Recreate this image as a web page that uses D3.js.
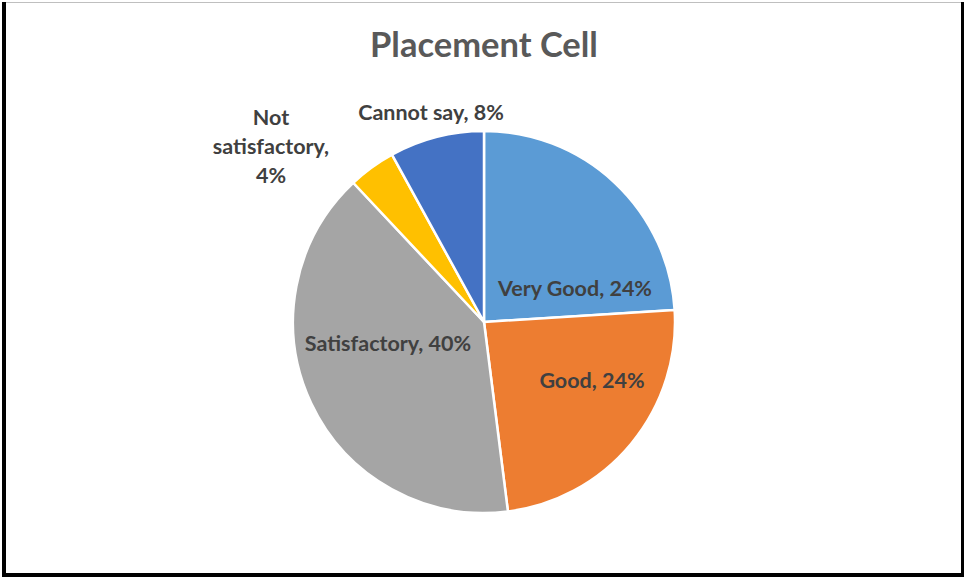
<!DOCTYPE html>
<html>
<head>
<meta charset="utf-8">
<script src="https://cdn.jsdelivr.net/npm/d3@7"></script>
<style>
  html, body { margin: 0; padding: 0; background: #fff; }
  svg { display: block; }
</style>
</head>
<body>
<div id="chart"></div>
<script>
const categories = ['Very Good', 'Good', 'Satisfactory', 'Not satisfactory', 'Cannot say'];
const values = [24, 24, 40, 4, 8];
const colours = ['#5B9BD5', '#ED7D31', '#A5A5A5', '#FFC000', '#4472C4'];
// label lines as they wrap in the picture
const labelLines = [
  ['Very Good, 24%'],
  ['Good, 24%'],
  ['Satisfactory, 40%'],
  ['Not', 'satisfactory,', '4%'],
  ['Cannot say, 8%']
];
// label offsets from the pie centre
const labelOffsets = [[91, -34], [108, 58], [-96, 21], [-213, -176], [-53, -210]];

const PieChart = function(){
  const W = 964, H = 578,
        CX = 484, CY = 322, R = 191,
        FONT = 'Lato, "Open Sans", sans-serif';

  const plot = () => {
    const svg = d3.select('#chart')
      .append('svg')
      .attr('width', W)
      .attr('height', H);

    svg.append('rect').attr('width', W).attr('height', H).attr('fill', '#fff');

    // frame: thin top, heavy left/right/bottom
    svg.append('rect').attr('x', 2).attr('y', 2).attr('width', 960).attr('height', 1).attr('fill', '#bfbfbf');
    svg.append('rect').attr('x', 2).attr('y', 2).attr('width', 4).attr('height', 575).attr('fill', '#000');
    svg.append('rect').attr('x', 961).attr('y', 2).attr('width', 3).attr('height', 575).attr('fill', '#000');
    svg.append('rect').attr('x', 2).attr('y', 573).attr('width', 962).attr('height', 4).attr('fill', '#000');

    svg.append('text')
       .attr('x', CX)
       .attr('y', 57)
       .attr('text-anchor', 'middle')
       .attr('font-family', FONT)
       .attr('font-weight', 'bold')
       .attr('font-size', 34.5)
       .attr('fill', '#595959')
       .text('Placement Cell');

    const data = categories.map((c, i) => ({name: c, value: values[i], idx: i}));

    const pie = d3.pie().sort(null).value(d => d.value);
    const arc = d3.arc().innerRadius(0).outerRadius(R);

    const g = svg.append('g').attr('transform', `translate(${CX},${CY})`);

    g.selectAll('path')
     .data(pie(data))
     .enter()
     .append('path')
     .attr('d', arc)
     .attr('fill', d => colours[d.data.idx])
     .attr('stroke', '#fff')
     .attr('stroke-width', 2.5)
     .attr('stroke-linejoin', 'round');

    const lbl = g.selectAll('text.lbl')
      .data(data)
      .enter()
      .append('text')
      .attr('class', 'lbl')
      .attr('text-anchor', 'middle')
      .attr('font-family', FONT)
      .attr('font-weight', 'bold')
      .attr('font-size', 21.5)
      .attr('fill', '#404040');

    lbl.each(function(d){
      const lines = labelLines[d.idx];
      const [ox, oy] = labelOffsets[d.idx];
      const t = d3.select(this);
      lines.forEach((ln, j) => {
        t.append('tspan')
         .attr('x', ox)
         .attr('y', oy + (j - (lines.length - 1) / 2) * 29)
         .attr('dy', '0.35em')
         .text(ln);
      });
    });
  };

  return { load: plot };
}();
document.addEventListener('DOMContentLoaded', PieChart.load);
</script>
</body>
</html>
